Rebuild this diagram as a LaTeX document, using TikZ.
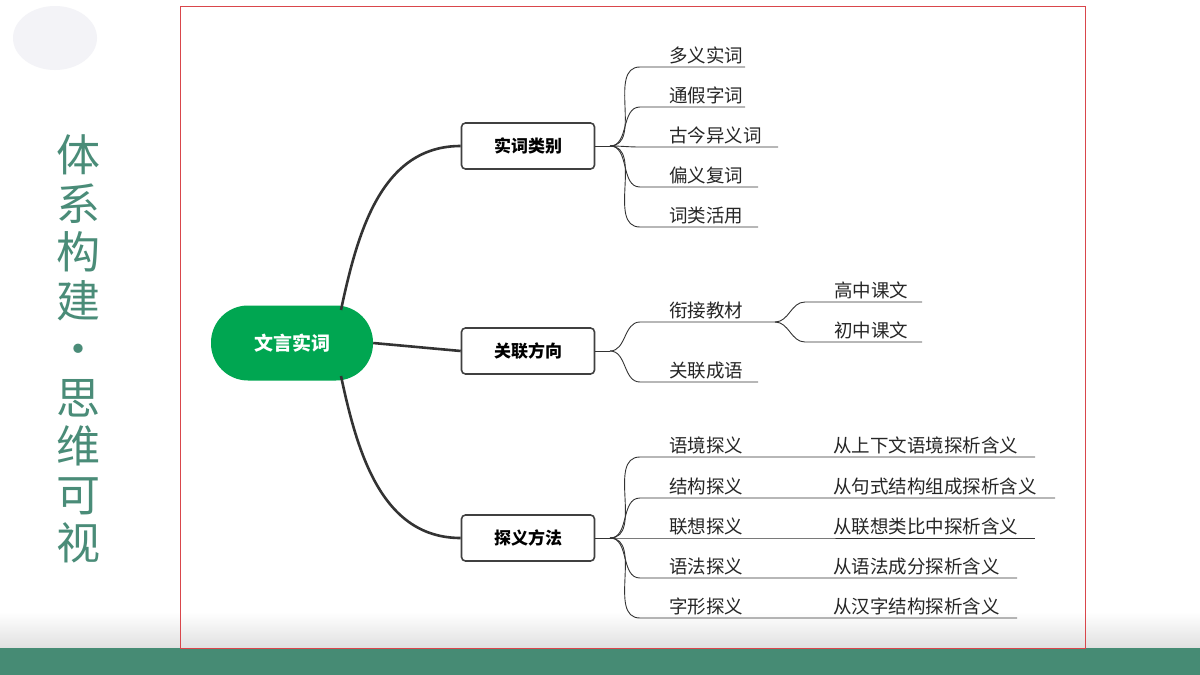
\documentclass[tikz,border=0pt]{standalone}
\usepackage{fontspec}
\setmainfont{Noto Sans CJK SC}
\usetikzlibrary{positioning}
\definecolor{rootGreen}{HTML}{00A651}
\definecolor{bandTeal}{HTML}{468B74}
\definecolor{titleTeal}{HTML}{4A8C78}
\definecolor{frameRed}{HTML}{D9464B}
\tikzstyle{topic} = [rectangle, rounded corners=4pt, draw=black!75, line width=1.6pt, minimum width=133pt, minimum height=46pt, fill=white, font=\fontsize{17}{20}\selectfont\bfseries]
\tikzstyle{root} = [rectangle, rounded corners=37pt, fill=rootGreen, text=white, minimum width=162pt, minimum height=75pt, font=\fontsize{19}{22}\selectfont\bfseries]
\tikzstyle{leaf} = [anchor=south west, inner xsep=29pt, inner ysep=3pt, font=\fontsize{18.5}{21}\selectfont, text=black!85]
\tikzstyle{trunk} = [line width=2.6pt, draw=black!80]
\tikzstyle{twig} = [line width=0.9pt, draw=black!80]

\begin{document}
\begin{tikzpicture}[x=1pt, y=-1pt]
\useasboundingbox (0,0) rectangle (1200,675);

% Background
\fill[white] (0,0) rectangle (1200,675);
\fill[blue!20!gray!8] (55,38) ellipse [x radius=42, y radius=32];
\shade[top color=white, bottom color=black!12] (0,612) rectangle (1200,648);
\fill[bandTeal] (0,648) rectangle (1200,675);
\draw[frameRed, line width=0.8pt] (180,6) rectangle (1085,648);
\node (title) [text=titleTeal, align=center, font=\fontsize{44}{48.5}\selectfont] at (78,349) {体\\系\\构\\建\\·\\思\\维\\可\\视};

% Nodes
\node (root) [root] at (292,343) {文言实词};
\node (catBox) [topic] at (528,146) {实词类别};
\node (linkBox) [topic] at (528,351) {关联方向};
\node (methodBox) [topic] at (528,538) {探义方法};
\coordinate (rootUp) at (341,310);
\coordinate (rootDown) at (341,376);
\coordinate (catJoint) at (610,146);
\coordinate (linkJoint) at (610,351);
\coordinate (methodJoint) at (610,538);

% Trunks
\draw[trunk] (rootUp) to[out=78, in=180] (catBox.west);
\draw[trunk] (root.east) -- (linkBox.west);
\draw[trunk] (rootDown) to[out=-78, in=180] (methodBox.west);
\draw[twig] (catBox) -- (catJoint);
\draw[twig] (linkBox) -- (linkJoint);
\draw[twig] (methodBox) -- (methodJoint);

% Category leaves
\foreach \t/\y/\e [count=\i] in {多义实词/67/745, 通假字词/107/745, 古今异义词/147/778, 偏义复词/187/758, 词类活用/227/758} {
  \node (cat\i) [leaf] at (640,\y) {\t};
  \coordinate (catEnd\i) at (\e,\y);
  \draw[twig] (catJoint) to[out=0, in=180] (cat\i.south west) -- (catEnd\i);
}

% Link leaves
\node (bridge) [leaf] at (640,322) {衔接教材};
\coordinate (bridgeEnd) at (775,322);
\draw[twig] (linkJoint) to[out=0, in=180] (bridge.south west) -- (bridgeEnd);
\foreach \t/\y [count=\i] in {高中课文/302, 初中课文/342} {
  \node (text\i) [leaf] at (805,\y) {\t};
  \coordinate (textEnd\i) at (922,\y);
  \draw[twig] (bridgeEnd) to[out=0, in=180] (text\i.south west) -- (textEnd\i);
}
\node (idiom) [leaf] at (640,382) {关联成语};
\coordinate (idiomEnd) at (758,382);
\draw[twig] (linkJoint) to[out=0, in=180] (idiom.south west) -- (idiomEnd);

% Method leaves
\foreach \t/\d/\y/\e [count=\i] in {语境探义/从上下文语境探析含义/457/1035, 结构探义/从句式结构组成探析含义/498/1055, 联想探义/从联想类比中探析含义/538/1035, 语法探义/从语法成分探析含义/578/1017, 字形探义/从汉字结构探析含义/618/1017} {
  \node (way\i) [leaf] at (640,\y) {\t};
  \node (note\i) [leaf] at (804,\y) {\d};
  \coordinate (wayEnd\i) at (\e,\y);
  \draw[twig] (methodJoint) to[out=0, in=180] (way\i.south west) -- (wayEnd\i);
}

\end{tikzpicture}
\end{document}
